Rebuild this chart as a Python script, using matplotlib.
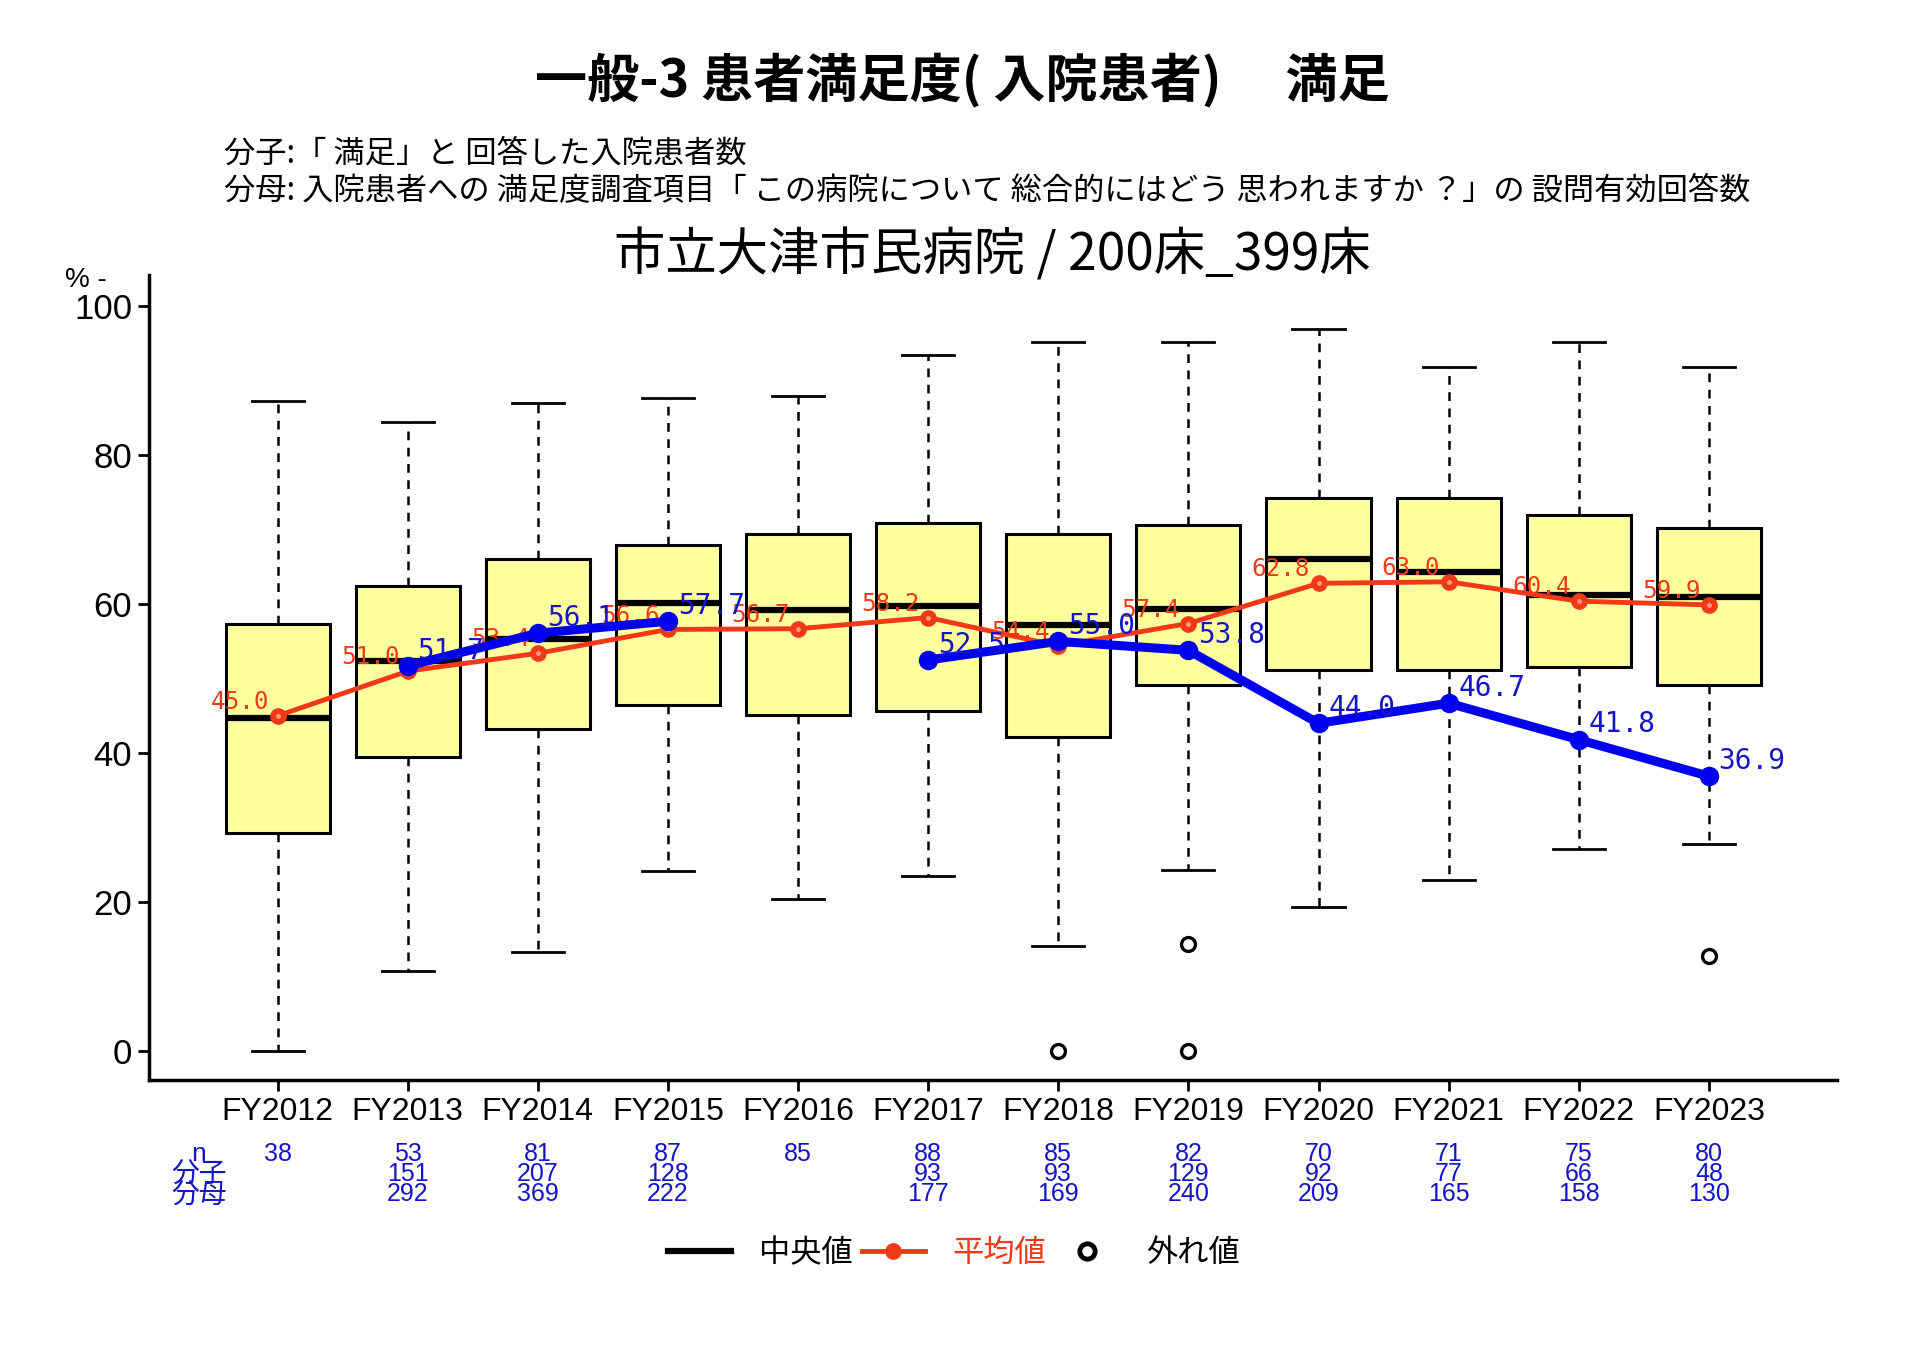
import matplotlib
matplotlib.use('Agg')
import matplotlib.pyplot as plt
import matplotlib.transforms as mtransforms
from matplotlib.lines import Line2D
import numpy as np

plt.rcParams['font.family'] = ['Noto Sans CJK JP', 'DejaVu Sans']

# データ
years = ['FY2012', 'FY2013', 'FY2014', 'FY2015', 'FY2016', 'FY2017',
         'FY2018', 'FY2019', 'FY2020', 'FY2021', 'FY2022', 'FY2023']
whislo = [0.0, 10.7, 13.3, 24.2, 20.4, 23.5, 14.1, 24.3, 19.4, 23.0, 27.1, 27.8]
q1 = [29.3, 39.5, 43.3, 46.5, 45.1, 45.6, 42.1, 49.2, 51.2, 51.2, 51.5, 49.2]
med = [44.7, 52.3, 55.3, 60.2, 59.2, 59.7, 57.2, 59.4, 66.0, 64.3, 61.2, 60.9]
q3 = [57.4, 62.5, 66.0, 67.9, 69.4, 70.9, 69.4, 70.6, 74.2, 74.2, 72.0, 70.2]
whishi = [87.3, 84.5, 87.0, 87.7, 88.0, 93.4, 95.2, 95.2, 96.9, 91.8, 95.2, 91.8]
outliers = [[], [], [], [], [], [], [0.0], [14.3, 0.0], [], [], [], [12.7]]
means = [45.0, 51.0, 53.4, 56.6, 56.7, 58.2, 54.4, 57.4, 62.8, 63.0, 60.4, 59.9]
hosp = [np.nan, 51.7, 56.1, 57.7, np.nan, 52.5, 55.0, 53.8, 44.0, 46.7, 41.8, 36.9]
n_list = [38, 53, 81, 87, 85, 88, 85, 82, 70, 71, 75, 80]
bunshi = [None, 151, 207, 128, None, 93, 93, 129, 92, 77, 66, 48]
bunbo = [None, 292, 369, 222, None, 177, 169, 240, 209, 165, 158, 130]

RED = '#F03A17'
BLUE = '#0000F0'
BLUE_TXT = '#1515C8'

fig = plt.figure(figsize=(19.2, 13.58), dpi=100)
ax = fig.add_axes([0.0776, 0.2047, 0.8794, 0.5928])

x = np.arange(1, len(years) + 1)
stats = []
for i in range(len(years)):
    stats.append(dict(whislo=whislo[i], q1=q1[i], med=med[i], q3=q3[i],
                      whishi=whishi[i], fliers=outliers[i]))

ax.bxp(stats, positions=x, widths=0.8, capwidths=0.4, patch_artist=True,
       boxprops=dict(facecolor='#FFFF9E', edgecolor='black', linewidth=2.2),
       medianprops=dict(color='black', linewidth=4.5, solid_capstyle='butt'),
       whiskerprops=dict(color='black', linewidth=1.8, linestyle=(0, (3.5, 3))),
       capprops=dict(color='black', linewidth=2),
       flierprops=dict(marker='o', markerfacecolor='none', markeredgecolor='black',
                       markersize=10, markeredgewidth=2.4),
       zorder=2)

# 平均値
ax.plot(x, means, color=RED, lw=3.5, marker='o', markersize=11, zorder=4)
ax.plot(x, means, ls='none', marker='o', color='#FF9A80', markersize=2.5, zorder=4.1)
for xi, v in zip(x, means):
    ax.annotate(f'{v:.1f}', (xi, v), xytext=(-6, 10), textcoords='offset points',
                ha='right', va='center', color=RED, fontsize=17.5,
                family='DejaVu Sans Mono', zorder=5)

# 自院
ax.plot(x, hosp, color=BLUE, lw=6.5, marker='o', markersize=13, zorder=6)
for xi, v in zip(x, hosp):
    if np.isnan(v):
        continue
    ax.annotate(f'{v:.1f}', (xi, v), xytext=(7, 11), textcoords='offset points',
                ha='left', va='center', color=BLUE_TXT, fontsize=20,
                family='DejaVu Sans Mono', zorder=7)

ax.set_xlim(0.012, 12.988)
ax.set_ylim(-3.9, 104.2)
ax.set_yticks([0, 20, 40, 60, 80, 100])
ax.set_xticks(x)
ax.set_xticklabels(years)
for lab in ax.get_xticklabels():
    lab.set_family(['Liberation Sans', 'DejaVu Sans'])
    lab.set_fontsize(23)
for lab in ax.get_yticklabels():
    lab.set_family(['Liberation Sans', 'DejaVu Sans'])
    lab.set_fontsize(25)
ax.tick_params(axis='both', direction='out', length=8, width=2, color='black')
ax.tick_params(axis='x', pad=4)
ax.tick_params(axis='y', pad=4)
for s in ['top', 'right']:
    ax.spines[s].set_visible(False)
for s in ['left', 'bottom']:
    ax.spines[s].set_linewidth(2.5)

fig.text(0.034, 0.794, '% -', fontsize=20, family=['Liberation Sans', 'DejaVu Sans'],
         ha='left', va='center')

# タイトル
fig.text(0.501, 0.941, '一般-3 患者満足度( 入院患者)　 満足', fontsize=37.5,
         fontweight='bold', ha='center', va='center')
fig.text(0.1167, 0.887, '分子:「 満足」と 回答した入院患者数', fontsize=22.5,
         ha='left', va='center')
fig.text(0.1167, 0.859, '分母: 入院患者への 満足度調査項目「 この病院について 総合的にはどう 思われますか ？」の 設問有効回答数',
         fontsize=22.5, ha='left', va='center')
fig.text(0.517, 0.812, '市立大津市民病院 / 200床_399床', fontsize=37,
         ha='center', va='center')

# n / 分子 / 分母
tr = mtransforms.blended_transform_factory(ax.transData, fig.transFigure)
num_font = ['Liberation Sans Narrow', 'Liberation Sans', 'DejaVu Sans']
row_y = [0.1505, 0.1355, 0.1205]
for i, xi in enumerate(x):
    vals = [n_list[i], bunshi[i], bunbo[i]]
    for ry, v in zip(row_y, vals):
        if v is None:
            continue
        ax.text(xi, ry, str(v), transform=tr, ha='center', va='center',
                fontsize=18, color=BLUE_TXT, family=num_font)
fig.text(0.1036, row_y[0], 'n', fontsize=19, color=BLUE_TXT, ha='center', va='center',
         family=num_font)
fig.text(0.1036, row_y[1], '分子', fontsize=20, color=BLUE_TXT, ha='center', va='center')
fig.text(0.1036, row_y[2], '分母', fontsize=20, color=BLUE_TXT, ha='center', va='center')

# 凡例
handles = [
    Line2D([], [], color='black', lw=4.5),
    Line2D([], [], color=RED, lw=3.5, marker='o', markersize=11),
    Line2D([], [], color='black', ls='none', marker='o', markerfacecolor='none',
           markersize=11, markeredgewidth=3.5),
]
leg = fig.legend(handles, ['中央値', '平均値', '外れ値'], loc='center',
                 bbox_to_anchor=(0.497, 0.077), ncol=3, frameon=False, fontsize=22.5,
                 handlelength=2.0, handletextpad=0.9, columnspacing=0.3)
leg.get_texts()[1].set_color(RED)

fig.savefig('out.png', dpi=100)
